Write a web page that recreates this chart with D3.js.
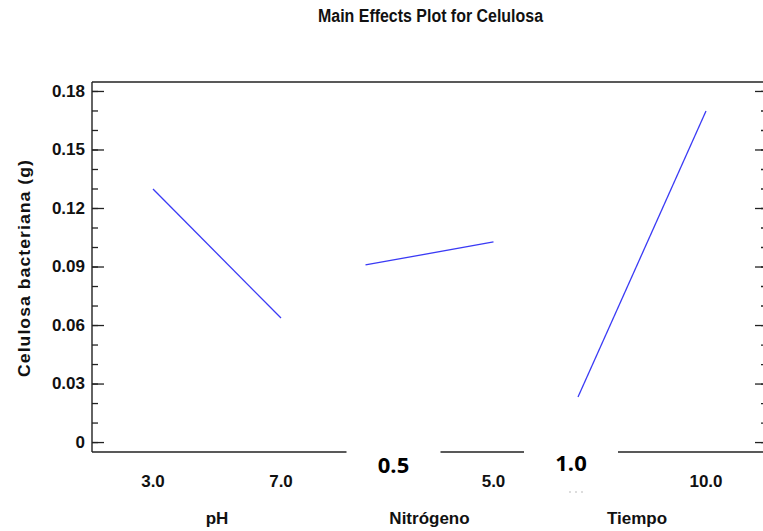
<!DOCTYPE html>
<html><head><meta charset="utf-8">
<script src="https://cdn.jsdelivr.net/npm/d3@7/dist/d3.min.js"></script>
<style>
html,body{margin:0;padding:0;background:#fff;}
svg{display:block;}
text{font-family:"Liberation Sans",Arial,sans-serif;font-weight:bold;fill:#111;}
text.patch{font-family:"Open Sans","DejaVu Sans",sans-serif;font-weight:700;fill:#000;}
</style></head>
<body>
<script>
// ---- data ----
const factors = ["pH", "Nitrógeno", "Tiempo"];
const lowLevels = ["3.0", "0.5", "1.0"];
const highLevels = ["7.0", "5.0", "10.0"];
const lowMeans = [0.1297, 0.0908, 0.0231];
const highMeans = [0.0636, 0.1026, 0.1697];
const yTicks = [0, 0.03, 0.06, 0.09, 0.12, 0.15, 0.18];
const yMinorTicks = d3.range(0, 19).map(i => i / 100);
const title = "Main Effects Plot for Celulosa";
const yTitle = "Celulosa bacteriana (g)";

// ---- layout ----
const W = 763, H = 531;
const L = 92, R = 767, T = 82, B = 452;

const svg = d3.select("body").append("svg").attr("width", W).attr("height", H);

const y = d3.scaleLinear().domain([-0.0051, 0.1846]).range([B, T]);
const band = d3.scaleBand().domain(factors).range([110, 747.5]).paddingInner(0).paddingOuter(0);
const lvl = d3.scaleLinear().domain([0, 1]).range([43, 171]);
const xAt = (f, k) => band(f) + lvl(k);

// frame
const frame = svg.append("g").attr("stroke", "#222").attr("stroke-width", 1.4);
frame.append("line").attr("x1", L).attr("x2", R).attr("y1", T).attr("y2", T);
frame.append("line").attr("x1", L).attr("x2", R).attr("y1", B).attr("y2", B);
frame.append("line").attr("x1", L).attr("x2", L).attr("y1", T).attr("y2", B);
frame.append("line").attr("x1", R).attr("x2", R).attr("y1", T).attr("y2", B);

function styleAxis(g) {
  g.select(".domain").remove();
  g.selectAll(".tick line").attr("stroke", "#222").attr("stroke-width", 1.3);
}
// left ticks (inside)
svg.append("g").attr("transform", `translate(${L},0)`)
  .call(d3.axisRight(y).tickValues(yMinorTicks).tickSize(6).tickFormat(""))
  .call(styleAxis);
svg.append("g").attr("transform", `translate(${L},0)`)
  .call(d3.axisRight(y).tickValues(yTicks).tickSize(12).tickFormat(""))
  .call(styleAxis);
// left labels
svg.append("g").attr("transform", `translate(${L},0)`)
  .call(d3.axisLeft(y).tickValues(yTicks).tickSize(0).tickPadding(7)
    .tickFormat(d => d === 0 ? "0" : d3.format(".2f")(d)))
  .call(g => { g.select(".domain").remove(); g.selectAll("text").attr("font-size", 17).attr("font-family", "Liberation Sans").attr("font-weight", "bold").attr("fill", "#111"); });
// right ticks (inside)
svg.append("g").attr("transform", `translate(${R},0)`)
  .call(d3.axisLeft(y).tickValues(yMinorTicks).tickSize(6).tickFormat(""))
  .call(styleAxis);
svg.append("g").attr("transform", `translate(${R},0)`)
  .call(d3.axisLeft(y).tickValues(yTicks).tickSize(12).tickFormat(""))
  .call(styleAxis);

// main effect lines
const line = d3.line().x(d => d[0]).y(d => d[1]);
factors.forEach((f, i) => {
  svg.append("path")
    .attr("d", line([[xAt(f, 0), y(lowMeans[i])], [xAt(f, 1), y(highMeans[i])]]))
    .attr("fill", "none").attr("stroke", "#3a3af5").attr("stroke-width", 1.3);
});

// level labels
factors.forEach((f, i) => {
  if (i === 0) {
    svg.append("text").attr("x", xAt(f, 0)).attr("y", 487).attr("text-anchor", "middle")
      .attr("font-size", 17).text(lowLevels[i]);
  }
  svg.append("text").attr("x", xAt(f, 1)).attr("y", 487).attr("text-anchor", "middle")
    .attr("font-size", 17).text(highLevels[i]);
  svg.append("text").attr("x", (xAt(f, 0) + xAt(f, 1)) / 2 - (i === 2 ? 5 : 0)).attr("y", 524).attr("text-anchor", "middle")
    .attr("font-size", 17).text(f);
});

// pasted-over labels for low levels of factors 2 and 3
const patchShift = [0, 28, -7];
const patchBase = [0, 473, 471];
[1, 2].forEach(i => {
  const cx = xAt(factors[i], 0) + patchShift[i];
  svg.append("rect").attr("x", cx - 47).attr("y", 444).attr("width", 94).attr("height", 40).attr("fill", "#fff");
  svg.append("text").attr("class", "patch").attr("x", cx).attr("y", patchBase[i]).attr("text-anchor", "middle")
    .attr("font-size", 22)
    .text(lowLevels[i]);
  if (i === 2) {
    svg.append("line").attr("x1", cx - 2).attr("x2", cx + 16).attr("y1", 492).attr("y2", 492)
      .attr("stroke", "#bbb").attr("stroke-width", 1).attr("stroke-dasharray", "2,4");
  }
});

// title
svg.append("text").attr("x", 430.5).attr("y", 22).attr("text-anchor", "middle")
  .attr("font-size", 18).attr("textLength", 225).attr("lengthAdjust", "spacingAndGlyphs").text(title);

// y title
svg.append("text").attr("transform", "translate(30,268) rotate(-90)").attr("text-anchor", "middle")
  .attr("font-size", 17).attr("textLength", 218).attr("lengthAdjust", "spacingAndGlyphs")
  .attr("letter-spacing", 1).text(yTitle);
</script>
</body></html>
